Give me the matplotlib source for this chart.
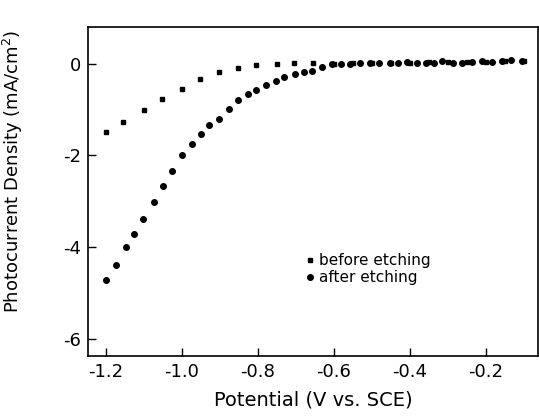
import matplotlib
matplotlib.use("Agg")
import matplotlib.pyplot as plt

plt.rcParams['font.family'] = ['DejaVu Sans']

# before etching (squares)
before_v = [-1.200, -1.154, -1.100, -1.052, -1.001, -0.953, -0.902, -0.852, -0.805,
            -0.751, -0.705, -0.656, -0.600, -0.550, -0.500, -0.450, -0.400, -0.350,
            -0.300, -0.250, -0.200, -0.150, -0.100]
before_j = [-1.485, -1.266, -1.011, -0.771, -0.552, -0.341, -0.188, -0.100, -0.028,
            -0.013, 0.020, 0.020, 0.000, 0.010, 0.020, 0.020, 0.020, 0.030,
            0.030, 0.030, 0.040, 0.050, 0.060]

# after etching (circles)
after_v = [-1.200, -1.174, -1.147, -1.126, -1.102, -1.074, -1.049, -1.027, -1.001,
           -0.974, -0.951, -0.928, -0.903, -0.876, -0.852, -0.827, -0.805, -0.779,
           -0.752, -0.732, -0.703, -0.678, -0.658, -0.632, -0.606, -0.582, -0.558,
           -0.532, -0.505, -0.481, -0.453, -0.431, -0.409, -0.382, -0.359, -0.337,
           -0.315, -0.286, -0.262, -0.236, -0.210, -0.184, -0.159, -0.133, -0.104]
after_j = [-4.723, -4.402, -4.009, -3.712, -3.384, -3.026, -2.670, -2.336, -1.993,
           -1.753, -1.537, -1.345, -1.214, -0.996, -0.793, -0.662, -0.574, -0.465,
           -0.371, -0.297, -0.229, -0.175, -0.153, -0.079, -0.013, -0.013, -0.013,
           0.020, 0.020, 0.020, 0.020, 0.020, 0.040, 0.020, 0.020, 0.020,
           0.050, 0.020, 0.020, 0.040, 0.050, 0.040, 0.050, 0.070, 0.050]

x_ticks = [-1.2, -1.0, -0.8, -0.6, -0.4, -0.2]
x_labels = ['-1.2', '-1.0', '-0.8', '-0.6', '-0.4', '-0.2']
y_ticks = [0, -2, -4, -6]
y_labels = ['0', '-2', '-4', '-6']

fig = plt.figure(figsize=(5.39, 4.18), dpi=100)
ax = fig.add_axes([88.3 / 539, (418 - 356) / 418, (538 - 88.3) / 539, (356 - 27) / 418])

ax.plot(before_v, before_j, linestyle='none', marker='s', markersize=3.2,
        color='black', label='before etching')
ax.plot(after_v, after_j, linestyle='none', marker='o', markersize=4.0,
        color='black', label='after etching')

ax.set_xlim(-1.2466, -0.063)
ax.set_ylim(-6.38, 0.80)
ax.set_xticks(x_ticks)
ax.set_xticklabels(x_labels)
ax.set_yticks(y_ticks)
ax.set_yticklabels(y_labels)
ax.tick_params(direction='in', length=6, width=1.0, labelsize=13, pad=5)
for s in ax.spines.values():
    s.set_linewidth(1.2)

ax.set_xlabel('Potential (V vs. SCE)', fontsize=14, labelpad=7)
ax.set_ylabel('Photocurrent Density (mA/cm$^2$)', fontsize=13)
ax.yaxis.set_label_coords(-0.14, 0.56)

ax.legend(loc='upper left', bbox_to_anchor=(0.485, 0.312), frameon=False,
          fontsize=11, handlelength=0.5, handletextpad=0.3, borderpad=0,
          borderaxespad=0, labelspacing=0.1, markerscale=1.0)

fig.savefig('out.png', dpi=100)
